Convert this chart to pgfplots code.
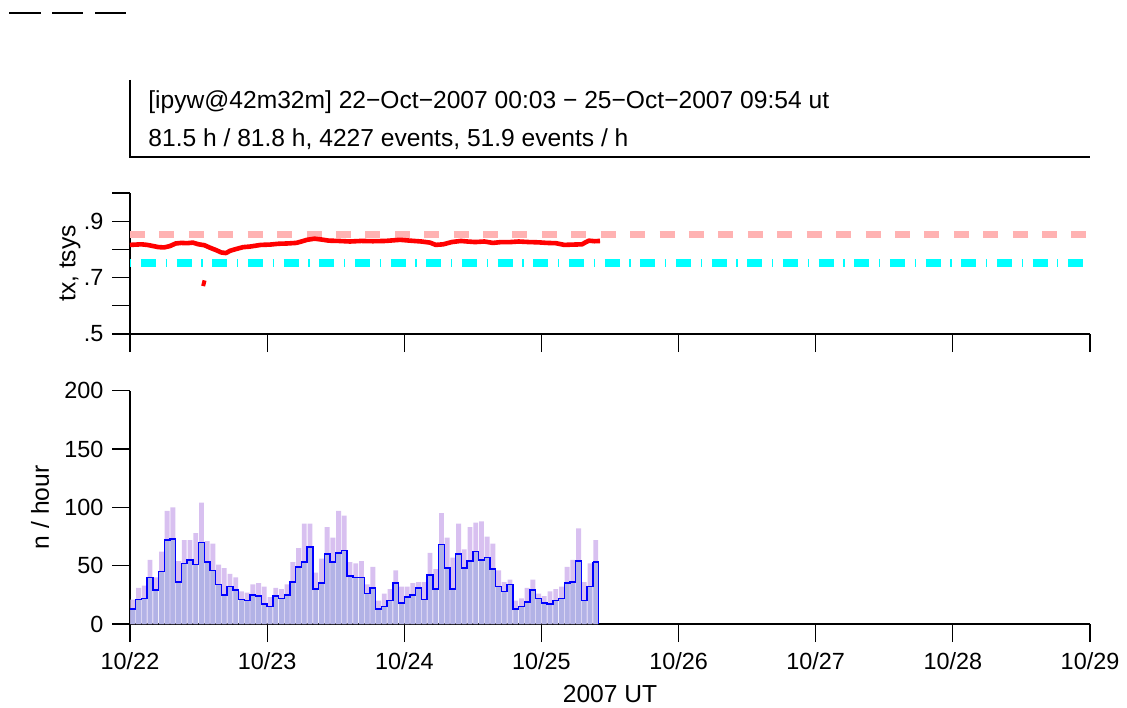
\documentclass[border=0pt]{standalone}
\usepackage{fontspec}
\setmainfont{Liberation Sans}
\usepackage{pgfplots}
\usepackage{pgfplotstable}
\pgfplotsset{compat=1.18}

\definecolor{totfill}{RGB}{216,192,240}
\definecolor{subfill}{RGB}{178,178,230}
\definecolor{txref}{RGB}{255,178,178}
\definecolor{tsysref}{RGB}{0,255,255}
\definecolor{stepblue}{RGB}{0,0,255}
\definecolor{txred}{RGB}{255,0,0}

\newcommand{\labfont}{\fontsize{12.3pt}{14.5pt}\selectfont}
\newcommand{\tickfont}{\fontsize{11.7pt}{14pt}\selectfont}

% hourly counts: all events / accepted events
\pgfplotstableread{
h tot sub
0.5 21 13
1.5 31 21
2.5 33 22
3.5 55 40
4.5 40 29
5.5 62 45
6.5 97 72
7.5 100 73
8.5 54 36
9.5 72 52
10.5 72 55
11.5 78 51
12.5 104 70
13.5 71 53
14.5 69 46
15.5 51 34
16.5 48 25
17.5 43 32
18.5 40 29
19.5 28 21
20.5 27 20
21.5 34 25
22.5 35 24
23.5 32 17
24.5 23 15
25.5 31 24
26.5 30 22
27.5 34 25
28.5 53 36
29.5 65 49
30.5 86 53
31.5 86 66
32.5 44 30
33.5 56 35
34.5 83 60
35.5 74 53
36.5 97 61
37.5 93 63
38.5 53 41
39.5 52 40
40.5 54 40
41.5 34 26
42.5 49 31
43.5 20 13
44.5 26 15
45.5 30 20
46.5 46 35
47.5 32 18
48.5 32 23
49.5 35 25
50.5 36 31
51.5 36 21
52.5 61 42
53.5 47 30
54.5 95 68
55.5 74 48
56.5 57 30
57.5 86 60
58.5 64 48
59.5 83 54
60.5 87 62
61.5 88 55
62.5 75 57
63.5 69 47
64.5 46 32
65.5 36 28
66.5 38 34
67.5 20 13
68.5 22 15
69.5 31 19
70.5 38 29
71.5 26 22
72.5 24 18
73.5 28 17
74.5 30 20
75.5 32 22
76.5 49 35
77.5 55 36
78.5 82 54
79.5 36 20
80.5 52 32
81.5 72 53
}\hist

\pgfplotsset{
  panel/.style={
    scale only axis, width=480pt,
    xmin=0, xmax=168, xtick={0,24,...,168},
    axis x line*=bottom, axis y line*=left,
    axis line style={line width=0.6pt},
    tick style={line width=0.6pt, black},
    tick align=outside, major tick length=9pt,
    minor tick num=0,
    tick label style={font=\tickfont},
    xticklabel style={yshift=-1pt},
    /pgf/number format/assume math mode=true,
    clip=false,
  },
}

\begin{document}
\labfont
\begin{tikzpicture}
\path[use as bounding box] (0,0) rectangle (563.5pt,353.5pt);

% header
\draw[line width=1pt] (4.65pt,347.15pt) -- (20.35pt,347.15pt)
  (26.15pt,347.15pt) -- (41.65pt,347.15pt) (47.5pt,347.15pt) -- (63pt,347.15pt);
\draw[line width=0.6pt] (65pt,313.5pt) -- (65pt,275pt) -- (545pt,275pt);
\node[anchor=base west, inner sep=0pt] at (74pt,299pt)
  {[ipyw@42m32m] 22−Oct−2007 00:03 − 25−Oct−2007 09:54 ut};
\node[anchor=base west, inner sep=0pt] at (74pt,280.25pt)
  {81.5 h / 81.8 h, 4227 events, 51.9 events / h};

% tx, tsys panel
\begin{axis}[panel,
  at={(65pt,186.5pt)}, anchor=south west, height=70.5pt,
  ymin=0.5, ymax=1.0, ytick={0.5,0.6,0.7,0.8,0.9,1.0},
  yticklabels={.5,,.7,,.9,}, xticklabels={}]
\addplot[txref, line width=3.65pt, dash pattern=on 7.5pt off 7.21pt]
  coordinates {(0,0.853) (168,0.853)};
\addplot[tsysref, line width=4pt, dash pattern=on 0.65pt off 4.84pt on 7.5pt off 4.84pt]
  coordinates {(0,0.75) (168,0.75)};
\addplot[txred, line width=2.3pt, line join=round] coordinates {
  (0,0.816) (1,0.817) (2,0.818) (3,0.816) (4,0.812) (5,0.808) (6,0.807)
  (7,0.812) (8,0.821) (9,0.823) (10,0.822) (11,0.824) (12,0.818) (13,0.815)
  (14,0.806) (15,0.798) (16,0.789) (16.8,0.787) (17.5,0.795) (18.5,0.801)
  (19.8,0.808) (21,0.810) (22.9,0.816) (24.5,0.817) (26,0.820) (27.5,0.821)
  (29.1,0.823) (30,0.828) (31,0.834) (32.3,0.838) (33.5,0.835) (34.8,0.831)
  (36.5,0.830) (38.5,0.828) (40.5,0.830) (42.5,0.829) (44.7,0.830) (46,0.832)
  (47.25,0.834) (49,0.831) (51,0.828) (52.5,0.824) (53.5,0.816) (54.8,0.818)
  (56.3,0.826) (57.9,0.830) (59,0.828) (60.4,0.826) (62,0.828) (63.5,0.823)
  (65,0.826) (66.6,0.826) (68,0.828) (69.8,0.826) (71.5,0.825) (72.9,0.823)
  (74.5,0.822) (76,0.816) (77.5,0.817) (79.1,0.818) (79.8,0.826) (80.3,0.831)
  (81.3,0.829) (82.25,0.830)
};
\addplot[txred, line width=2pt] coordinates {(12.8,0.670) (13.05,0.690)};
\end{axis}

% event rate panel
\begin{axis}[panel,
  at={(65pt,41.5pt)}, anchor=south west, height=116.65pt,
  ymin=0, ymax=200, ytick={0,50,...,200},
  xticklabels={10/22,10/23,10/24,10/25,10/26,10/27,10/28,10/29}]
\addplot[ybar, bar width=0.85, bar shift=0pt, fill=totfill, draw=none]
  table[x=h, y=tot]{\hist};
\addplot[ybar, bar width=0.85, bar shift=0pt, fill=subfill, draw=none]
  table[x=h, y=sub]{\hist};
\addplot[stepblue, line width=0.7pt, const plot mark left]
  table[x expr=\thisrow{h}-0.5, y=sub]{\hist};
\addplot[stepblue, line width=0.7pt] coordinates {(81,53) (82,53) (82,0)};
\end{axis}

% axis titles
\node[rotate=90, anchor=center] at (35pt,221.75pt) {tx, tsys};
\node[rotate=90, anchor=center] at (20pt,99.8pt) {n / hour};
\node[anchor=center] at (305pt,6.5pt) {2007 UT};
\end{tikzpicture}
\end{document}
